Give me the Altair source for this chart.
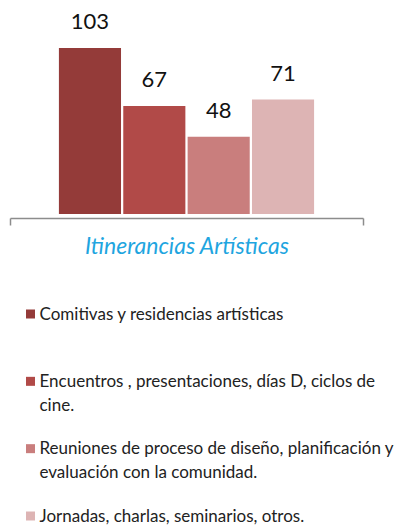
import altair as alt
import pandas as pd

category = ["Itinerancias Artísticas"] * 4
series = [
    "Comitivas y residencias artísticas",
    "Encuentros , presentaciones, días D, ciclos de\ncine.",
    "Reuniones de proceso de diseño, planificación y\nevaluación con la comunidad.",
    "Jornadas, charlas, seminarios, otros.",
]
values = [103, 67, 48, 71]
colors = ["#943b39", "#b14a48", "#c97e7d", "#ddb4b4"]

df = pd.DataFrame({"cat": category, "serie": series, "valor": values})

FONT = "Lato"

color_scale = alt.Scale(domain=series, range=colors)

x_enc = alt.X("cat:N", title=None,
              scale=alt.Scale(paddingInner=0, paddingOuter=0),
              axis=alt.Axis(tickBand="extent", offset=4, domainColor="#8c8c8c",
                            domainWidth=1.5, tickColor="#8c8c8c", tickWidth=1.5,
                            tickSize=7, labelAngle=0, labelColor="#1ea5e0",
                            labelFontStyle="italic", labelFontSize=23,
                            labelFont=FONT, labelPadding=10, labelLimit=400,
                            grid=False))
xo_enc = alt.XOffset("serie:N", sort=series,
                     scale=alt.Scale(paddingInner=0.035, paddingOuter=0.76))
y_enc = alt.Y("valor:Q", title=None,
              scale=alt.Scale(domain=[0, 121.6]), axis=None)

bars = alt.Chart(df).mark_bar().encode(
    x=x_enc, xOffset=xo_enc, y=y_enc,
    color=alt.Color("serie:N", scale=color_scale, legend=None),
)

labels = alt.Chart(df).mark_text(
    baseline="middle", dy=-26, fontSize=22, font=FONT, color="#111111"
).encode(x=x_enc, xOffset=xo_enc, y=y_enc, text="valor:Q")

ly = alt.Y("serie:N", sort=series, axis=None,
           scale=alt.Scale(type="point", padding=0, range=[296, 498]))

leg_sq = alt.Chart(df).mark_square(size=81, opacity=1).encode(
    x=alt.value(20.5), y=ly,
    color=alt.Color("serie:N", scale=color_scale, legend=None),
)
leg_tx = alt.Chart(df).mark_text(
    align="left", baseline="top", dy=-7.5, lineBreak="\n", lineHeight=24,
    fontSize=17, font=FONT, color="#222222"
).encode(x=alt.value(29.5), y=ly, text="serie:N")

chart = alt.layer(bars, labels, leg_sq, leg_tx).resolve_scale(
    y="independent"
).properties(
    width=353, height=196,
    autosize=alt.AutoSizeParams(type="none"),
    padding={"left": 2, "top": 10, "right": 32, "bottom": 313},
).configure(background="white").configure_view(stroke=None, strokeWidth=0)

chart.save("out.html", embed_options={"renderer": "svg", "actions": False})
